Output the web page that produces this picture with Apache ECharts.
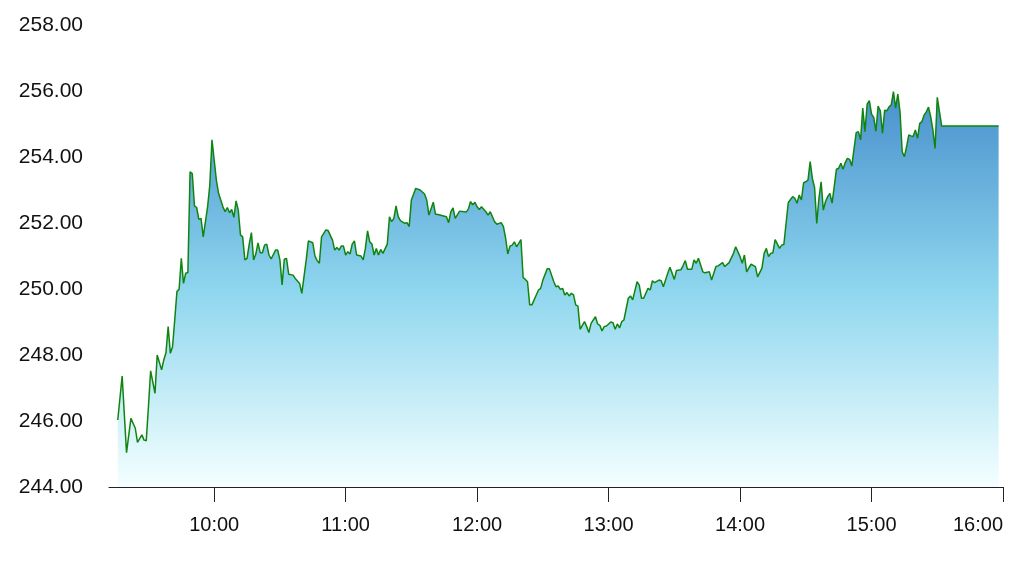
<!DOCTYPE html>
<html>
<head>
<meta charset="utf-8">
<script src="https://cdn.jsdelivr.net/npm/echarts@6/dist/echarts.min.js"></script>
<style>
html,body{margin:0;padding:0;background:#fff;}
#chart{width:1024px;height:563px;}
</style>
</head>
<body>
<div id="chart"></div>
<script>
// Intraday price series (time, price)
const times = [
"09:16","09:18","09:20","09:22","09:24","09:25","09:27","09:28","09:29","09:30",
"09:31","09:33","09:34","09:36","09:37","09:38","09:39","09:40","09:41","09:42",
"09:43","09:44","09:45","09:46","09:47","09:48","09:49","09:50","09:51","09:52",
"09:53","09:54","09:55","09:57","09:58","09:59","10:01","10:02","10:04","10:05",
"10:06","10:07","10:08","10:09","10:10","10:11","10:12","10:13","10:14","10:15",
"10:16","10:17","10:18","10:19","10:20","10:21","10:22","10:23","10:24","10:25",
"10:26","10:28","10:29","10:30","10:31","10:32","10:33","10:34","10:36","10:37",
"10:39","10:40","10:42","10:43","10:45","10:46","10:47","10:48","10:49","10:51",
"10:52","10:54","10:55","10:56","10:57","10:58","10:59","11:00","11:01","11:02",
"11:03","11:04","11:05","11:07","11:08","11:09","11:10","11:11","11:12","11:13",
"11:14","11:15","11:16","11:17","11:19","11:20","11:21","11:22","11:23","11:24",
"11:25","11:27","11:28","11:29","11:30","11:32","11:34","11:36","11:37","11:38",
"11:40","11:41","11:43","11:46","11:47","11:48","11:49","11:50","11:52","11:55",
"11:56","11:57","11:58","11:59","12:00","12:01","12:02","12:04","12:05","12:06",
"12:07","12:08","12:09","12:11","12:12","12:13","12:14","12:15","12:16","12:17",
"12:18","12:19","12:20","12:21","12:22","12:23","12:24","12:25","12:27","12:28",
"12:29","12:30","12:32","12:33","12:35","12:36","12:37","12:38","12:39","12:40",
"12:41","12:42","12:43","12:44","12:45","12:46","12:47","12:49","12:50","12:51",
"12:52","12:54","12:55","12:56","12:57","12:58","12:59","13:01","13:02","13:03",
"13:04","13:05","13:06","13:07","13:09","13:10","13:11","13:13","13:14","13:15",
"13:16","13:18","13:19","13:20","13:21","13:23","13:24","13:25","13:27","13:28",
"13:29","13:30","13:31","13:33","13:34","13:35","13:36","13:38","13:39","13:40",
"13:41","13:43","13:44","13:46","13:47","13:49","13:50","13:52","13:53","13:55",
"13:57","13:58","14:00","14:01","14:02","14:03","14:05","14:07","14:08","14:10",
"14:11","14:12","14:13","14:14","14:15","14:16","14:18","14:19","14:20","14:22",
"14:24","14:25","14:26","14:27","14:28","14:29","14:30","14:31","14:32","14:33",
"14:34","14:35","14:36","14:37","14:38","14:39","14:40","14:41","14:42","14:44",
"14:45","14:46","14:47","14:48","14:49","14:50","14:51","14:53","14:54","14:55",
"14:56","14:57","14:58","14:59","15:00","15:01","15:02","15:03","15:04","15:05",
"15:06","15:07","15:08","15:09","15:10","15:11","15:12","15:13","15:14","15:15",
"15:16","15:17","15:18","15:19","15:20","15:21","15:22","15:23","15:24","15:25",
"15:26","15:27","15:28","15:29","15:30","15:32","15:58"
];
const prices = [
246.03,247.36,245.04,246.08,245.78,245.35,245.58,245.42,245.40,246.43,
247.52,246.84,248.00,247.55,247.85,248.07,248.86,248.05,248.25,249.06,
249.92,249.99,250.93,250.17,250.48,250.50,253.55,253.50,252.52,252.47,
252.11,252.14,251.58,252.49,253.15,254.52,253.30,252.90,252.49,252.34,
252.47,252.31,252.41,252.17,252.67,252.39,251.64,251.58,250.88,250.93,
251.36,251.71,250.88,251.06,251.40,251.10,251.10,251.33,251.36,251.03,
250.91,251.18,251.18,250.88,250.12,250.90,250.93,250.45,250.42,250.32,
250.17,249.87,250.88,251.46,251.40,251.00,250.86,250.78,251.58,251.79,
251.77,251.48,251.18,251.26,251.18,251.30,251.30,251.03,251.13,251.06,
251.36,251.46,251.03,251.00,250.88,251.23,251.76,251.43,251.36,251.03,
251.23,251.03,251.20,251.08,251.36,252.19,252.04,252.14,252.52,252.19,
252.07,251.99,252.01,251.89,252.70,253.05,253.00,252.88,252.70,252.24,
252.63,252.27,252.24,252.19,252.01,252.34,252.46,252.14,252.36,252.33,
252.42,252.65,252.55,252.63,252.49,252.41,252.49,252.34,252.24,252.34,
252.19,252.04,251.96,252.01,251.89,251.54,251.06,251.30,251.33,251.43,
251.28,251.38,251.50,250.35,250.29,250.22,249.52,249.52,249.82,249.97,
250.02,250.27,250.61,250.61,250.22,250.07,250.09,249.99,250.02,249.82,
249.89,249.79,249.87,249.82,249.52,249.48,248.78,249.01,248.86,248.68,
248.96,249.16,248.94,248.90,248.73,248.86,248.88,249.00,248.98,248.78,
248.94,248.82,249.01,249.06,249.72,249.79,249.67,250.22,250.12,249.72,
249.72,250.02,249.97,250.25,250.19,250.27,250.25,250.07,250.48,250.66,
250.48,250.29,250.56,250.58,250.71,250.86,250.60,250.60,250.88,250.78,
250.93,250.52,250.49,250.52,250.27,250.68,250.70,250.80,250.68,250.80,
251.08,251.28,250.98,250.78,251.03,250.52,250.75,250.68,250.37,250.63,
251.08,251.23,250.98,251.08,251.10,251.50,251.23,251.33,251.35,252.62,
252.80,252.75,252.60,252.85,252.70,253.22,253.25,253.30,253.86,253.35,
253.08,251.99,252.75,253.25,252.39,252.65,252.80,252.90,252.60,253.63,
253.66,253.81,253.63,253.83,253.96,253.93,253.73,254.74,254.77,254.52,
255.48,254.77,255.60,255.71,255.30,255.20,254.78,255.54,255.40,254.72,
255.42,255.40,255.52,255.58,255.98,255.48,255.91,255.37,254.16,254.01,
254.31,254.67,254.64,254.62,254.82,254.57,255.02,255.07,255.27,255.37,
255.51,255.22,254.82,254.26,255.81,254.94,254.94
];
const yTicks = [244, 246, 248, 250, 252, 254, 256, 258];
const xStart = "09:12";
const xEnd = "16:00";
const day = "2024-01-02";

const toMs = t => new Date(day + "T" + t + ":00").getTime();
const seriesData = times.map((t, i) => [toMs(t), prices[i]]);

const chart = echarts.init(document.getElementById('chart'), null, {renderer: 'canvas'});
chart.setOption({
  animation: false,
  backgroundColor: '#ffffff',
  grid: {left: 109, right: 21, top: 25, bottom: 76, containLabel: false, outerBoundsMode: 'none'},
  xAxis: {
    type: 'time',
    min: toMs(xStart),
    max: toMs(xEnd),
    minInterval: 3600 * 1000,
    maxInterval: 3600 * 1000,
    axisLine: {show: true, lineStyle: {color: '#222', width: 1}},
    axisTick: {show: true, length: 15, lineStyle: {color: '#222', width: 1}},
    splitLine: {show: false},
    axisLabel: {
      color: '#111',
      fontSize: 20,
      fontFamily: 'Liberation Sans, Arial, sans-serif',
      margin: 28,
      showMinLabel: false,
      showMaxLabel: true,
      alignMaxLabel: 'right',
      hideOverlap: false,
      formatter: function (v) {
        const d = new Date(v);
        const h = String(d.getHours()).padStart(2, '0');
        const m = String(d.getMinutes()).padStart(2, '0');
        return h + ':' + m;
      }
    }
  },
  yAxis: {
    type: 'value',
    min: yTicks[0],
    max: yTicks[yTicks.length - 1],
    interval: yTicks[1] - yTicks[0],
    axisLine: {show: false},
    axisTick: {show: false},
    splitLine: {show: false},
    axisLabel: {
      color: '#111',
      fontSize: 21,
      fontFamily: 'Liberation Sans, Arial, sans-serif',
      margin: 26,
      formatter: v => v.toFixed(2)
    }
  },
  series: [{
    type: 'line',
    data: seriesData,
    showSymbol: false,
    symbol: 'none',
    lineStyle: {color: '#0f850f', width: 1.5},
    areaStyle: {
      opacity: 1,
      color: new echarts.graphic.LinearGradient(0, 0, 0, 1, [
        {offset: 0, color: '#4890cc'},
        {offset: 0.5, color: '#8ed6ee'},
        {offset: 1, color: '#f4ffff'}
      ])
    }
  }]
});
</script>
</body>
</html>
